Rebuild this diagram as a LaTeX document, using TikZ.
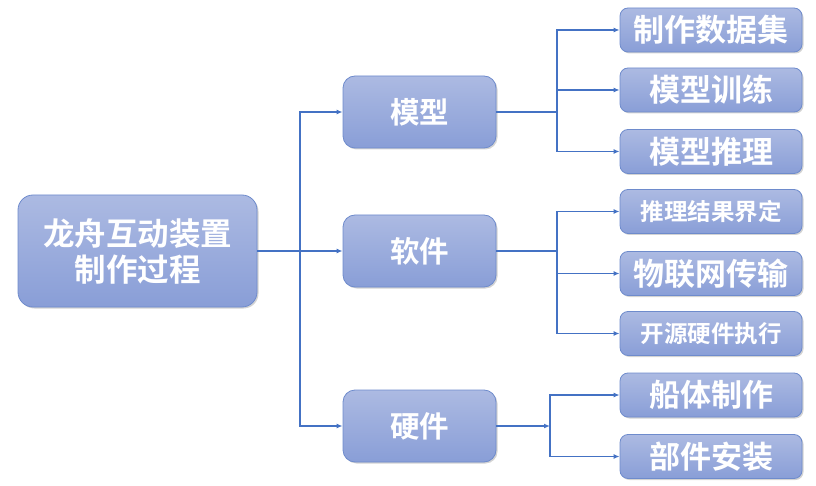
\documentclass[tikz,border=0pt]{standalone}
\usepackage{fontspec}
\newfontfamily\cjk{Noto Sans CJK SC Bold}
\usetikzlibrary{arrows.meta,shadows}
\definecolor{boxtop}{RGB}{172,186,226}
\definecolor{boxbot}{RGB}{137,158,215}
\definecolor{boxline}{RGB}{110,139,204}
\definecolor{linkblue}{RGB}{68,114,196}
\tikzset{
  box/.style={draw=boxline, line width=0.8pt, top color=boxtop, bottom color=boxbot,
    text=white, inner sep=0pt, align=center,
    drop shadow={shadow xshift=1.5pt, shadow yshift=-1.5pt, opacity=0.35}},
  rootbox/.style={box, minimum width=239pt, minimum height=112pt, rounded corners=15pt,
    font=\cjk\fontsize{31.5}{36}\selectfont},
  midbox/.style={box, minimum width=153pt, minimum height=72pt, rounded corners=12pt,
    font=\cjk\fontsize{29.5}{34}\selectfont},
  leafbox/.style={box, minimum width=182pt, minimum height=44pt, rounded corners=8pt,
    font=\cjk\fontsize{31}{34}\selectfont},
  smallleaf/.style={leafbox, font=\cjk\fontsize{23.5}{26}\selectfont},
  trunk/.style={linkblue, line width=2.4pt},
  link/.style={-{Latex[length=6pt,width=5pt]}, linkblue, line width=1.3pt}
}

\begin{document}
\begin{tikzpicture}[x=1pt, y=-1pt]
  \useasboundingbox (0,0) rectangle (816,486);
  % boxes
  \node[rootbox] (root) at (137.5,251) {龙舟互动装置\\制作过程};
  \node[midbox] (model) at (419.5,112) {模型};
  \node[midbox] (soft) at (419.5,251) {软件};
  \node[midbox] (hard) at (419.5,426) {硬件};
  \node[leafbox] (data) at (711,30) {制作数据集};
  \node[leafbox] (train) at (711,90) {模型训练};
  \node[leafbox] (infer) at (711,151.5) {模型推理};
  \node[smallleaf] (bound) at (711,211.5) {推理结果界定};
  \node[leafbox] (iot) at (711,273.5) {物联网传输};
  \node[smallleaf] (exec) at (711,333.5) {开源硬件执行};
  \node[leafbox] (hull) at (711,395) {船体制作};
  \node[leafbox] (parts) at (711,456.5) {部件安装};
  % junctions
  \coordinate (j0) at (300,251);
  \coordinate (j1) at (557,112);
  \coordinate (j2) at (557,251);
  \coordinate (j3) at (550,426);
  % connectors
  \draw[trunk] (root.east) -- (j0);
  \draw[link] (j0) |- (model.west);
  \draw[link] (j0) -- (soft.west);
  \draw[link] (j0) |- (hard.west);
  \draw[trunk] (model.east) -- (j1);
  \draw[link] (j1) |- (data.west);
  \draw[link] (j1) |- (train.west);
  \draw[link] (j1) |- (infer.west);
  \draw[trunk] (soft.east) -- (j2);
  \draw[link] (j2) |- (bound.west);
  \draw[link] (j2) |- (iot.west);
  \draw[link] (j2) |- (exec.west);
  \draw[link] (hard.east) -- (j3);
  \draw[link] (j3) |- (hull.west);
  \draw[link] (j3) |- (parts.west);
\end{tikzpicture}
\end{document}
